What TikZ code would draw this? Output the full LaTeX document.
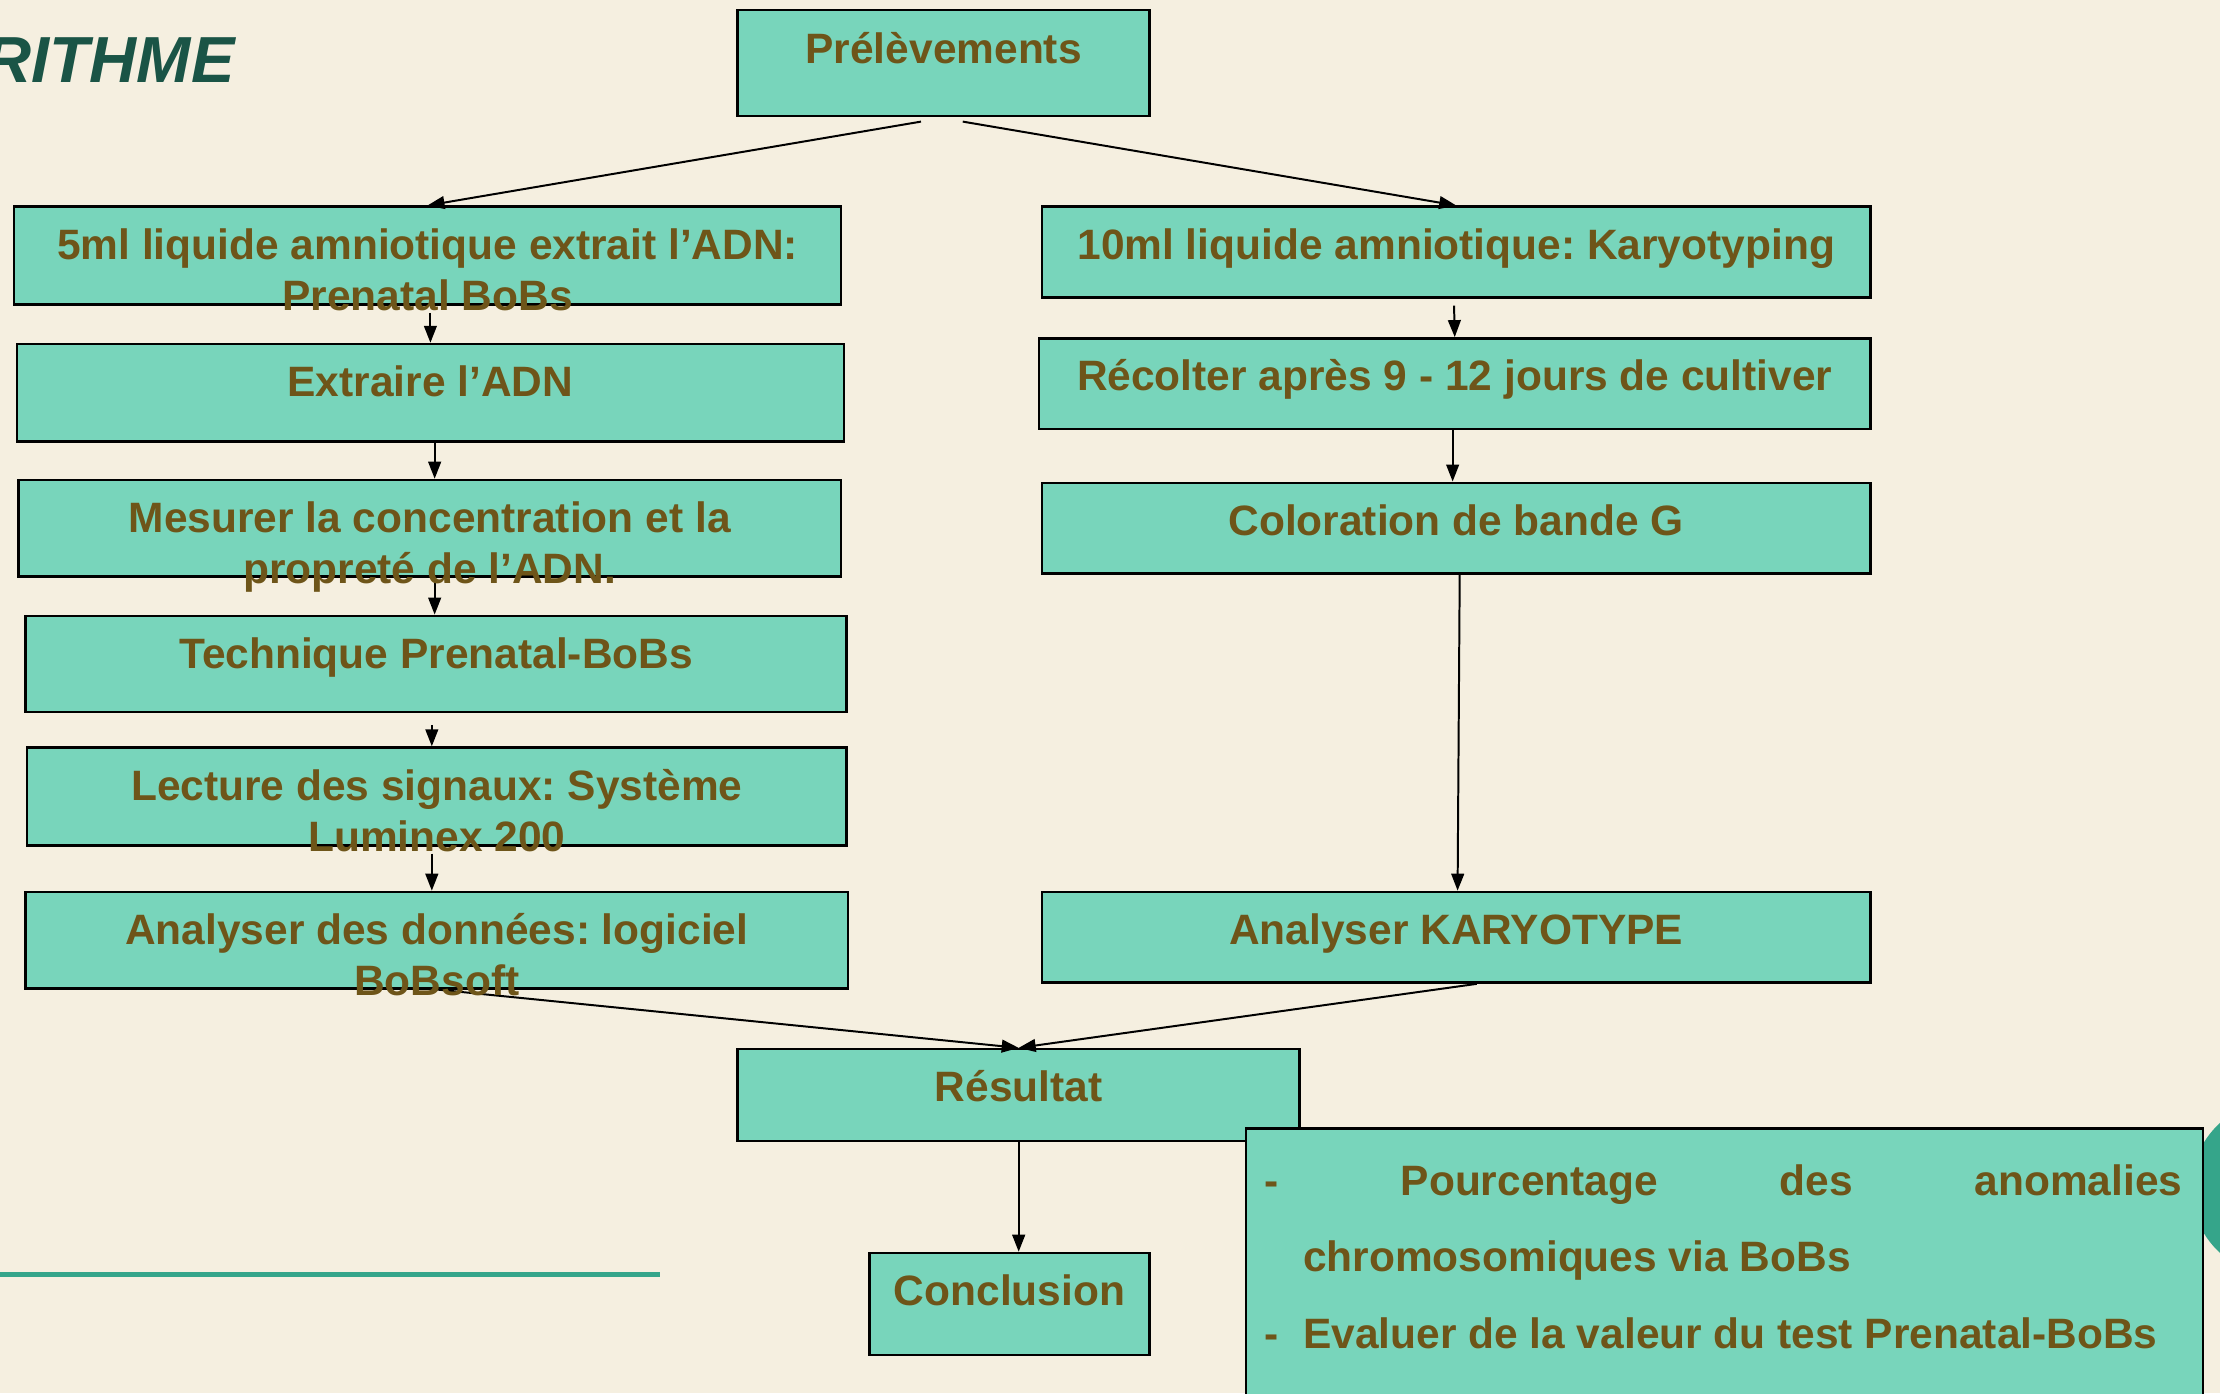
\documentclass[tikz,border=0pt]{standalone}
\usepackage{fontspec}
\setmainfont{Liberation Sans}
\usepackage{tikz}
\usetikzlibrary{positioning,arrows.meta}
\frenchspacing
\definecolor{cream}{RGB}{245,239,224}
\definecolor{mint}{RGB}{120,213,187}
\definecolor{olive}{RGB}{110,85,25}
\definecolor{dteal}{RGB}{53,165,138}
\definecolor{dgreen}{RGB}{26,84,70}
\tikzset{
  stepbox/.style={rectangle, draw=black, fill=mint, line width=0.9pt, inner sep=0pt},
  boxtxt/.style={font=\bfseries\fontsize{15}{18}\selectfont, text=olive, align=center, inner sep=0pt},
  notetxt/.style={font=\bfseries\fontsize{15}{27}\selectfont, text=olive, align=left, inner sep=0pt},
  arr/.style={-{Triangle[length=6pt,width=4.5pt]}, line width=0.7pt},
  flow/.style={x=0.5pt, y=-0.5pt}
}

\begin{document}
\begin{tikzpicture}[flow]
        \useasboundingbox (0,0) rectangle (1568,984);
        \clip (0,0) rectangle (1568,984);
        \fill[cream] (0,0) rectangle (1568,984);
        \node[font=\bfseries\itshape\fontsize{23}{27}\selectfont, text=dgreen, anchor=base east, inner sep=0pt] (title) at (166,58) {RITHME};
        \draw[dteal, line width=1.75pt] (0,900) -- (466,900);
        \fill[dteal] (1609.7,839) circle[radius=31pt];

        \node[stepbox, minimum width=145.5pt, minimum height=37.5pt] (pre) at (666.5,44.5) {};
        \node[stepbox, minimum width=292pt, minimum height=34.5pt] (l1) at (302,180.5) {};
        \node[stepbox, minimum width=292pt, minimum height=34.5pt] (l2) at (304,277.5) {};
        \node[stepbox, minimum width=290.5pt, minimum height=34pt] (l3) at (303.5,373) {};
        \node[stepbox, minimum width=290pt, minimum height=34pt] (l4) at (308,469) {};
        \node[stepbox, minimum width=289.5pt, minimum height=34.5pt] (l5) at (308.5,562.5) {};
        \node[stepbox, minimum width=290.5pt, minimum height=34pt] (l6) at (308.5,664) {};
        \node[stepbox, minimum width=292.5pt, minimum height=32pt] (r1) at (1028.5,178) {};
        \node[stepbox, minimum width=293.5pt, minimum height=32pt] (r2) at (1027.5,271) {};
        \node[stepbox, minimum width=292.5pt, minimum height=32pt] (r3) at (1028.5,373) {};
        \node[stepbox, minimum width=292.5pt, minimum height=32pt] (r4) at (1028.5,662) {};
        \node[stepbox, minimum width=198.5pt, minimum height=32.5pt] (res) at (719.5,773.5) {};
        \node[stepbox, minimum width=99pt, minimum height=36pt] (concl) at (713,921) {};
        \node[stepbox, minimum width=338pt, minimum height=106.5pt] (note) at (1218,903.5) {};

        \draw[arr] ([xshift=-8pt,yshift=-1.5pt]pre.south) -- (l1.north);
        \draw[arr] ([xshift=6.75pt,yshift=-1.5pt]pre.south) -- (r1.north);
        \draw[arr] ([xshift=1pt,yshift=-2.5pt]l1.south) -- (l2.north);
        \draw[arr] ([xshift=1.5pt]l2.south) -- ([xshift=1.75pt]l3.north);
        \draw[arr] ([xshift=1.75pt]l3.south) -- ([xshift=-0.5pt]l4.north);
        \draw[arr] ([xshift=-1.5pt,yshift=-4pt]l4.south) -- ([xshift=-1.75pt]l5.north);
        \draw[arr] ([xshift=-1.75pt,yshift=-2.5pt]l5.south) -- ([xshift=-1.75pt]l6.north);
        \draw[arr] (l6.south) -- (res.north);
        \draw[arr] ([xshift=-0.75pt,yshift=-2.5pt]r1.south) -- (r2.north);
        \draw[arr] ([xshift=-0.75pt]r2.south) -- ([xshift=-1.25pt]r3.north);
        \draw[arr] ([xshift=1.25pt]r3.south) -- ([xshift=0.5pt]r4.north);
        \draw[arr] ([xshift=7.25pt]r4.south) -- (res.north);
        \draw[arr] (res.south) -- (res.south |- concl.north);

        \node[boxtxt, below=6.6pt of pre.north] (tpre) {\strut Prélèvements};
        \node[boxtxt, below=6.2pt of l1.north] (tl1) {\strut 5ml liquide amniotique extrait l’ADN:\\ Prenatal BoBs};
        \node[boxtxt, below=6.2pt of l2.north] (tl2) {\strut Extraire l’ADN};
        \node[boxtxt, below=6.2pt of l3.north] (tl3) {\strut Mesurer la concentration et la\\ propreté de l’ADN.};
        \node[boxtxt, below=6.2pt of l4.north] (tl4) {\strut Technique Prenatal-BoBs};
        \node[boxtxt, below=6.2pt of l5.north] (tl5) {\strut Lecture des signaux: Système\\ Luminex 200};
        \node[boxtxt, below=6.2pt of l6.north] (tl6) {\strut Analyser des données: logiciel\\ BoBsoft};
        \node[boxtxt, below=6.2pt of r1.north] (tr1) {\strut 10ml liquide amniotique: Karyotyping};
        \node[boxtxt, below=6.2pt of r2.north] (tr2) {\strut Récolter après 9 - 12 jours de cultiver};
        \node[boxtxt, below=6.2pt of r3.north] (tr3) {\strut Coloration de bande G};
        \node[boxtxt, below=6.2pt of r4.north] (tr4) {\strut Analyser KARYOTYPE};
        \node[boxtxt, below=6.2pt of res.north] (tres) {\strut Résultat};
        \node[boxtxt, below=6.2pt of concl.north] (tconcl) {\strut Conclusion};
        \node[notetxt, anchor=north west] (tnote) at (893,806.2) {\strut\makebox[324pt]{-\hfill Pourcentage\hfill des\hfill anomalies}\\
          \hspace*{13.5pt}chromosomiques via BoBs\\
          \makebox[13.5pt][l]{-}Evaluer de la valeur du test Prenatal-BoBs};
      \end{tikzpicture}
\end{document}
